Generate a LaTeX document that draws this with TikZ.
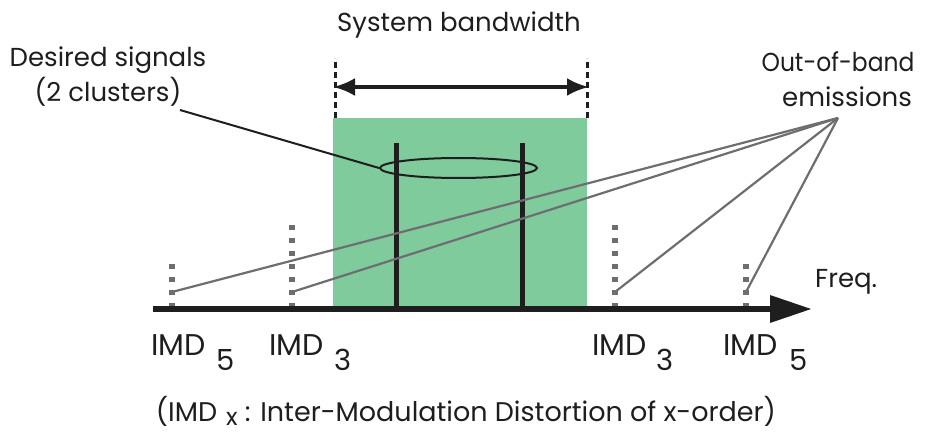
\documentclass[tikz,border=0pt]{standalone}
\usepackage{fontspec}
\setmainfont{Poppins}
\usetikzlibrary{arrows.meta,shapes.geometric}
\definecolor{bandgreen}{RGB}{128,203,156}
\definecolor{imdgray}{RGB}{110,110,114}
\definecolor{inkblack}{RGB}{30,30,30}
\tikzset{
  lbl/.style={font=\fontsize{26}{30}\selectfont, inner sep=0pt, text=inkblack},
  imdlbl/.style={font=\fontsize{30}{34}\selectfont, inner sep=0pt, text=inkblack},
  sub/.style={font=\fontsize{29}{33}\selectfont, inner sep=0pt, text=inkblack},
  imdtick/.style={draw=imdgray, line width=5.5pt, dash pattern=on 5pt off 8pt},
  pointer/.style={draw=imdgray, line width=2.2pt},
  signal/.style={draw=inkblack, line width=5pt},
}
\begin{document}
\begin{tikzpicture}[x=1pt,y=-1pt]
\useasboundingbox (0,0) rectangle (932,433);
% band
\fill[bandgreen] (333,118) rectangle (587,309);
% bandwidth markers
\coordinate (bl) at (335,118);
\coordinate (blt) at (335,58);
\coordinate (br) at (587,118);
\coordinate (brt) at (587,58);
\draw[inkblack, line width=3pt, dash pattern=on 6pt off 4pt] (bl) -- (blt);
\draw[inkblack, line width=3pt, dash pattern=on 6pt off 4pt] (br) -- (brt);
\coordinate (al) at (333,87);
\coordinate (ar) at (589,87);
\draw[inkblack, line width=4pt, {Latex[length=22pt,width=18pt]}-{Latex[length=22pt,width=18pt]}] (al) -- (ar);
\node[lbl, anchor=base] (sbw) at (459,32) {System bandwidth};
% signals
\coordinate (s1b) at (396,309);
\coordinate (s1t) at (396,143);
\coordinate (s2b) at (522,309);
\coordinate (s2t) at (522,143);
\draw[signal] (s1b) -- (s1t);
\draw[signal] (s2b) -- (s2t);
\node[draw=inkblack, line width=2pt, ellipse, minimum width=157pt, minimum height=20pt, inner sep=0pt] (clu) at (458.5,168) {};
% IMD ticks
\coordinate (t5l) at (172,308);
\coordinate (t5lt) at (172,260);
\coordinate (t3l) at (292,308);
\coordinate (t3lt) at (292,221);
\coordinate (t3r) at (615,308);
\coordinate (t3rt) at (615,221);
\coordinate (t5r) at (746,308);
\coordinate (t5rt) at (746,260);
\draw[imdtick] (t5l) -- (t5lt);
\draw[imdtick] (t3l) -- (t3lt);
\draw[imdtick] (t3r) -- (t3rt);
\draw[imdtick] (t5r) -- (t5rt);
% axis
\coordinate (ax0) at (153,309);
\coordinate (ax1) at (812,309);
\draw[inkblack, line width=6.5pt, -{Triangle[length=42pt,width=26pt]}] (ax0) -- (ax1);
\node[lbl, anchor=base west] (freq) at (815,287) {Freq.};
% out of band pointers
\coordinate (oob) at (838,118);
\coordinate (p5l) at (172,292);
\coordinate (p3l) at (292,292);
\coordinate (p3r) at (615,292);
\coordinate (p5r) at (746,292);
\draw[pointer] (oob) -- (p5l);
\draw[pointer] (oob) -- (p3l);
\draw[pointer] (oob) -- (p3r);
\draw[pointer] (oob) -- (p5r);
\node[lbl, anchor=base] (oob1) at (838,72) {\scalebox{0.9}[1]{Out-of-band}};
\node[lbl, anchor=base] (oob2) at (847,107) {emissions};
% desired signals
\node[lbl, anchor=base] (ds1) at (108,67) {Desired signals};
\node[lbl, anchor=base] (ds2) at (108,102) {(2 clusters)};
\coordinate (dsp) at (180,110);
\draw[inkblack, line width=2pt] (dsp) -- (clu.west);
% IMD labels
\node[imdlbl, anchor=base west] (i5l) at (151,355) {IMD};
\node[sub, anchor=base west] (i5ls) at (216,370) {5};
\node[imdlbl, anchor=base west] (i3l) at (269,355) {IMD};
\node[sub, anchor=base west] (i3ls) at (334,370) {3};
\node[imdlbl, anchor=base west] (i3r) at (592,355) {IMD};
\node[sub, anchor=base west] (i3rs) at (656,370) {3};
\node[imdlbl, anchor=base west] (i5r) at (723,355) {IMD};
\node[sub, anchor=base west] (i5rs) at (789,370) {5};
% caption
\node[font=\fontsize{27}{31}\selectfont, inner sep=0pt, text=inkblack, anchor=base] (cap) at (466,421) {(IMD\hspace{9pt}\raisebox{-4pt}{\fontsize{24}{28}\selectfont x} : Inter-Modulation Distortion of x-order)};
\end{tikzpicture}
\end{document}
